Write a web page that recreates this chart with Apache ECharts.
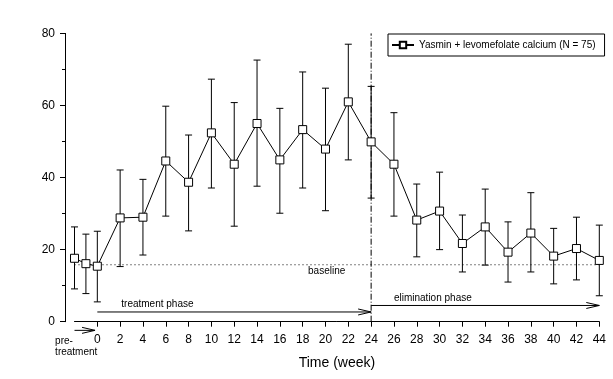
<!DOCTYPE html>
<html>
<head>
<meta charset="utf-8">
<script src="https://cdn.jsdelivr.net/npm/echarts@6/dist/echarts.min.js"></script>
<style>html,body{margin:0;padding:0;background:#fff;}#c{width:613px;height:379px;}</style>
</head>
<body>
<div id="c"></div>
<script>
// ---- data ----
var weeks = [-2, -1, 0, 2, 4, 6, 8, 10, 12, 14, 16, 18, 20, 22, 24, 26, 28, 30, 32, 34, 36, 38, 40, 42, 44];
var means = [17.6, 16.1, 15.4, 28.8, 29.0, 44.6, 38.7, 52.4, 43.7, 55.0, 44.9, 53.3, 47.9, 61.0, 49.9, 43.7, 28.2, 30.7, 21.7, 26.3, 19.3, 24.6, 18.2, 20.3, 17.0];
var upper = [26.3, 24.3, 25.1, 42.1, 39.5, 59.8, 51.8, 67.3, 60.8, 72.6, 59.2, 69.3, 64.8, 77.0, 65.3, 58.0, 38.2, 41.5, 29.6, 36.8, 27.7, 35.8, 25.9, 29.0, 26.8];
var lower = [9.1, 7.8, 5.5, 15.3, 18.5, 29.3, 25.2, 37.1, 26.5, 37.6, 30.1, 37.1, 30.8, 44.9, 34.3, 29.3, 18.0, 20.0, 13.8, 15.7, 11.0, 13.8, 10.5, 11.6, 7.2];
var xTicks = [0, 2, 4, 6, 8, 10, 12, 14, 16, 18, 20, 22, 24, 26, 28, 30, 32, 34, 36, 38, 40, 42, 44];
var yTicks = [0, 20, 40, 60, 80];
var baselineValue = 15.8;
var baselineSpan = [-2, 44];
var phaseBoundary = 24;
var seriesName = 'Yasmin + levomefolate calcium (N = 75)';
// arrows: [x1, y1, x2, y2]
var arrows = [[0, 2.7, 24, 2.7], [24, 4.5, 44, 4.5], [-2, -2.4, -0.2, -2.4]];
// annotations: [x, y, text, align]
var notes = [[2.1, 4.9, 'treatment phase', 'left'], [26.0, 6.6, 'elimination phase', 'left'], [20.1, 13.9, 'baseline', 'center'], [-3.7, -5.3, 'pre-', 'left'], [-3.7, -8.4, 'treatment', 'left']];

var FONT = 'Arial, "Liberation Sans", sans-serif';
var chart = echarts.init(document.getElementById('c'));

var errData = weeks.map(function (w, i) { return [w, lower[i], upper[i]]; });
var lineData = weeks.map(function (w, i) { return [w, means[i]]; });

chart.setOption({
  animation: false,
  backgroundColor: '#fff',
  grid: { left: 74.5, right: 13.7, top: 33.4, bottom: 57.3, containLabel: false },
  legend: {
    data: [seriesName],
    left: 388, top: 34,
    padding: [6, 9, 6, 3],
    borderColor: '#000', borderWidth: 1, borderRadius: 0,
    backgroundColor: '#fff',
    itemWidth: 22, itemHeight: 8, itemGap: 6,
    textStyle: { fontFamily: FONT, fontSize: 10, color: '#000' }
  },
  xAxis: {
    type: 'value', min: -2, max: 44,
    splitLine: { show: false },
    axisLine: { show: true, onZero: false, lineStyle: { color: '#000', width: 1 } },
    axisTick: { show: true, length: 5, inside: false, customValues: xTicks, lineStyle: { color: '#000' } },
    axisLabel: { customValues: xTicks, color: '#000', fontFamily: FONT, fontSize: 12, margin: 12 },
    name: 'Time (week)', nameLocation: 'middle', nameGap: 34,
    nameTextStyle: { fontFamily: FONT, fontSize: 14, color: '#000' }
  },
  yAxis: {
    type: 'value', min: 0, max: 80, interval: 20, offset: 9.5,
    splitLine: { show: false },
    axisLine: { show: true, onZero: false, lineStyle: { color: '#000', width: 1 } },
    axisTick: { show: true, length: 5, lineStyle: { color: '#000' } },
    minorTick: { show: true, splitNumber: 2, length: 3, lineStyle: { color: '#000' } },
    axisLabel: { customValues: yTicks, color: '#000', fontFamily: FONT, fontSize: 12, margin: 10 }
  },
  series: [
    {
      type: 'line', name: 'baseline', silent: true, symbol: 'none',
      data: baselineSpan.map(function (x) { return [x, baselineValue]; }),
      lineStyle: { color: '#000', width: 1, type: [1, 3] }
    },
    {
      type: 'line', name: 'boundary', silent: true, symbol: 'none',
      data: [[phaseBoundary, 0], [phaseBoundary, 80]],
      lineStyle: { color: '#000', width: 1, type: [6, 2, 1, 2] }
    },
    {
      type: 'custom', name: 'err', silent: true, clip: false,
      encode: { x: 0, y: [1, 2] },
      data: errData,
      renderItem: function (params, api) {
        var x = api.value(0);
        var lo = api.coord([x, api.value(1)]);
        var hi = api.coord([x, api.value(2)]);
        var hw = 3.5;
        var st = { stroke: '#000', lineWidth: 1 };
        return {
          type: 'group', children: [
            { type: 'line', shape: { x1: lo[0], y1: lo[1], x2: hi[0], y2: hi[1] }, style: st },
            { type: 'line', shape: { x1: lo[0] - hw, y1: lo[1], x2: lo[0] + hw, y2: lo[1] }, style: st },
            { type: 'line', shape: { x1: hi[0] - hw, y1: hi[1], x2: hi[0] + hw, y2: hi[1] }, style: st }
          ]
        };
      }
    },
    {
      type: 'custom', name: 'arrows', silent: true, clip: false,
      encode: { x: [0, 2], y: [1, 3] },
      data: arrows,
      renderItem: function (params, api) {
        var a = api.coord([api.value(0), api.value(1)]);
        var b = api.coord([api.value(2), api.value(3)]);
        var st = { stroke: '#000', lineWidth: 1, fill: null };
        return {
          type: 'group', children: [
            { type: 'line', shape: { x1: a[0], y1: a[1], x2: b[0], y2: b[1] }, style: st },
            { type: 'polyline', shape: { points: [[b[0] - 13, b[1] - 3], [b[0], b[1]], [b[0] - 13, b[1] + 3]] }, style: st }
          ]
        };
      }
    },
    {
      type: 'custom', name: 'notes', silent: true, clip: false,
      encode: { x: 0, y: 1 },
      data: notes,
      renderItem: function (params, api) {
        var p = api.coord([api.value(0), api.value(1)]);
        var n = notes[params.dataIndex];
        return {
          type: 'text',
          style: { x: p[0], y: p[1], text: n[2], fill: '#000', font: '10px ' + FONT, align: n[3], verticalAlign: 'middle' }
        };
      }
    },
    {
      type: 'line', name: seriesName, data: lineData,
      symbol: 'rect', symbolSize: 8,
      itemStyle: { color: '#fff', borderColor: '#000', borderWidth: 1 },
      lineStyle: { color: '#000', width: 1 },
      z: 5
    }
  ]
});
</script>
</body>
</html>
